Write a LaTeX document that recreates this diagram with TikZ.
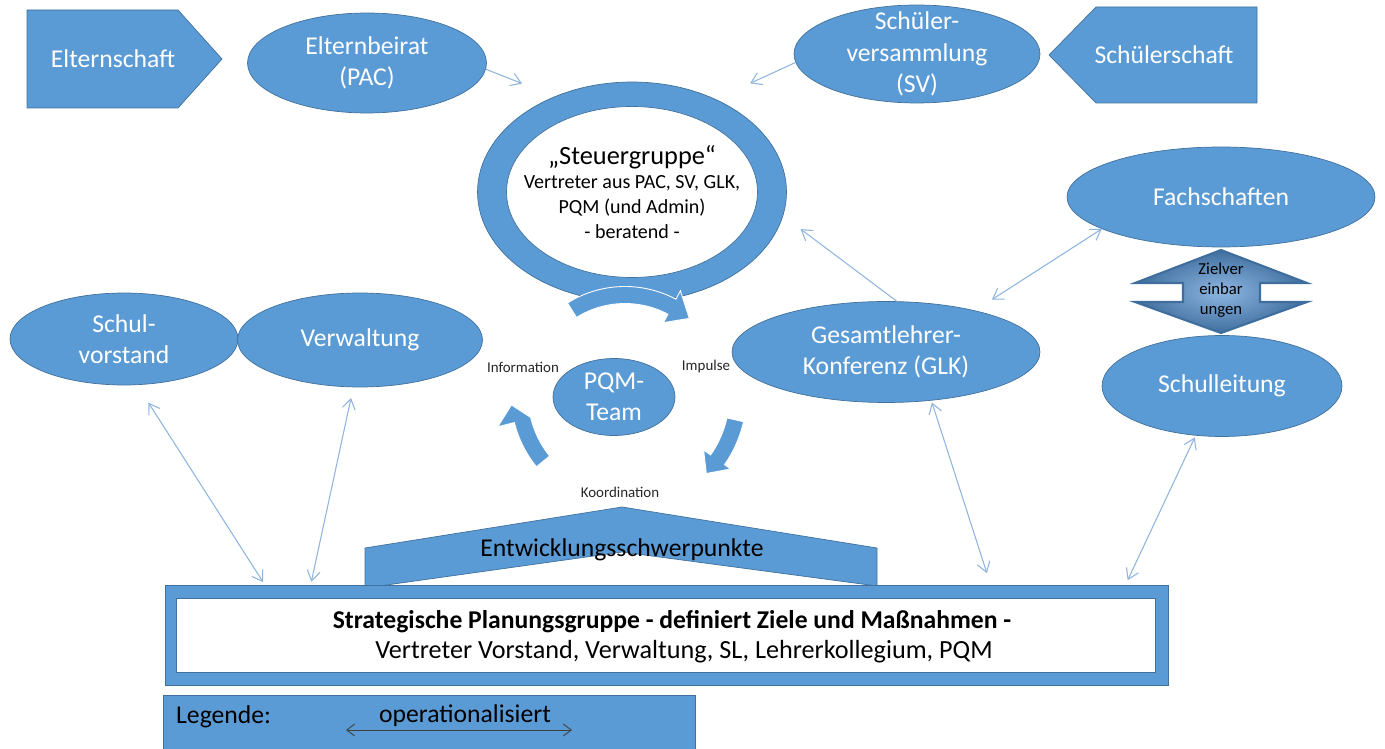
\documentclass[tikz,border=0pt]{standalone}
\usepackage{fontspec}
\setmainfont{Carlito}
\usetikzlibrary{shapes.geometric, arrows.meta, positioning, calc}
\definecolor{boxblue}{HTML}{5B9BD5}
\definecolor{boxline}{HTML}{41719C}
\definecolor{linkblue}{HTML}{8FB4DE}
\definecolor{zvdark}{HTML}{3F6E9E}
\definecolor{zvlight}{HTML}{8DB6E2}

\begin{document}
\begin{tikzpicture}[x=0.02cm, y=0.02cm,
      blob/.style={ellipse, draw=boxline, fill=boxblue, inner xsep=0pt,
      inner ysep=-9pt, align=center, text=white,
      font=\fontsize{14.6}{17.9}\selectfont},
      flatbox/.style={draw=boxline, fill=boxblue},
      bigtext/.style={font=\fontsize{14.6}{17.9}\selectfont},
      smalllabel/.style={font=\fontsize{8.5}{10}\selectfont, text=black!85},
      infoarrow/.style={draw=linkblue, line width=0.6pt,
      -{Straight Barb[length=2mm,width=2.6mm]}},
      bothways/.style={draw=linkblue, line width=0.6pt,
      {Straight Barb[length=2mm,width=2.6mm]}-{Straight Barb[length=2mm,width=2.6mm]}},
      cyclearrow/.style={fill=boxblue, draw=white, line width=0.5pt} ]
    \useasboundingbox (0,0) rectangle (1385,-749);

    % Parents and pupils
    \filldraw[flatbox] (27,-10) -- (178,-10) -- (222,-59) -- (178,-108) --
    (27,-108) -- cycle; \node[bigtext, text=white] (eltern) at (113,-59)
    {Elternschaft};
    \filldraw[flatbox] (1257,-7) -- (1096,-7) -- (1049,-55) -- (1096,-103) --
    (1257,-103) -- cycle; \node[bigtext, text=white] (schueler) at (1164,-55)
    {Schülerschaft};
    \node[blob, minimum width=4.78cm, minimum height=2cm] (pac) at (367,-63)
    {Elternbeirat\\(PAC)};
    \node[blob, minimum width=4.92cm, minimum height=1.96cm] (sv) at (917,-54)
    {Schüler-\\versammlung\\(SV)};

    % Steering group ring
    \node[ellipse, draw=boxline, fill=boxblue, minimum width=6.18cm, minimum
    height=4.4cm] (ring) at (632,-192) {};
    \node[ellipse, draw=boxline, fill=white, minimum width=5.02cm, minimum
    height=3.42cm] (ringhole) at (632,-192) {};
    \node[align=center, font=\fontsize{11.4}{14.2}\selectfont] (steuer) at
    (632,-192) {{\fontsize{15}{14.2}\selectfont „Steuergruppe“}\\Vertreter aus
    PAC, SV, GLK,\\PQM (und Admin)\\- beratend -};

    % PQM cycle
    \coordinate (cyc) at (625,-395);
    \filldraw[cyclearrow] ($(cyc)+(122:108.5)$) arc[start angle=122, end
    angle=62, radius=2.17cm] -- ($(cyc)+(62:118)$) -- ($(cyc)+(50:100)$) --
    ($(cyc)+(62:82)$) -- ($(cyc)+(62:91.5)$) arc[start angle=62, end
    angle=122, radius=1.83cm] -- cycle;
    \filldraw[cyclearrow] ($(cyc)+(-12.7:121.5)$) arc[start angle=-12.7, end
    angle=-35, radius=2.43cm] -- ($(cyc)+(-35:129)$) -- ($(cyc)+(-44:113)$)
    -- ($(cyc)+(-35:96)$) -- ($(cyc)+(-35:104.5)$) arc[start angle=-35, end
    angle=-12.7, radius=2.09cm] -- cycle;
    \filldraw[cyclearrow] ($(cyc)+(219:97)$) arc[start angle=219, end
    angle=194, radius=1.94cm] -- ($(cyc)+(194:96)$) -- ($(cyc)+(185:114)$) --
    ($(cyc)+(194:131)$) -- ($(cyc)+(194:114)$) arc[start angle=194, end
    angle=219, radius=2.28cm] -- cycle;
    \node[blob, minimum width=2.44cm, minimum height=1.54cm] (pqm) at
    (614,-397) {PQM-\\Team};
    \node[smalllabel] (info) at (523,-367) {Information};
    \node[smalllabel] (impulse) at (706,-367) {Impulse};
    \node[smalllabel] (koord) at (620,-492) {Koordination};

    % Left and right groups
    \node[blob, minimum width=4.56cm, minimum height=1.84cm] (vorstand) at
    (124,-339) {Schul-\\vorstand};
    \node[blob, minimum width=4.9cm, minimum height=1.88cm] (verwaltung) at
    (360,-340) {Verwaltung};
    \node[blob, minimum width=6.16cm, minimum height=2.02cm] (glk) at
    (886,-352) {Gesamtlehrer-\\Konferenz (GLK)};
    \node[blob, minimum width=6.16cm, minimum height=2cm] (fach) at
    (1221,-197) {Fachschaften};
    \node[blob, minimum width=4.8cm, minimum height=2.02cm] (sl) at
    (1222,-386) {Schulleitung};

    % Zielvereinbarungen double arrow
    \shade[inner color=zvlight, outer color=zvdark] (1221,-250) -- (1307,-283)
    -- (1260,-283) -- (1260,-302) -- (1307,-302) -- (1221,-333) -- (1135,-302)
    -- (1183,-302) -- (1183,-283) -- (1135,-283) -- cycle;
    \draw[zvdark, line width=1.2pt] (1221,-250) -- (1307,-283) -- (1260,-283)
    -- (1260,-302) -- (1307,-302) -- (1221,-333) -- (1135,-302) -- (1183,-302)
    -- (1183,-283) -- (1135,-283) -- cycle;
    \node[align=center, font=\fontsize{9.5}{11.3}\selectfont, text=black] (zv)
    at (1221,-290) {Zielver\\einbar\\ungen};

    % Strategic planning group
    \filldraw[flatbox] (365,-548) -- (622,-507) -- (877,-548) -- (877,-586) --
    (622,-552) -- (365,-588) -- cycle;
    \node[bigtext, text=black] (schwer) at (622,-550)
    {Entwicklungsschwerpunkte};
    \node[flatbox, rectangle, minimum width=20.06cm, minimum height=2cm] (spg)
    at (666.5,-635) {};
    \node[draw=boxline, fill=white, rectangle, minimum width=19.58cm, minimum
    height=1.48cm] (spginner) at (665.5,-635) {};
    \node[bigtext] (spgtitle) at (672,-622) {\bfseries Strategische
    Planungsgruppe - definiert Ziele und Maßnahmen -};
    \node[font=\fontsize{14.9}{17.9}\selectfont] (spgsub) at (684,-652)
    {Vertreter Vorstand, Verwaltung, SL, Lehrerkollegium, PQM};

    % Legend
    \filldraw[flatbox] (163,-695) rectangle (695,-760);
    \node[bigtext, anchor=west] (legende) at (170,-717) {Legende:};
    \node[bigtext] (oper) at (465,-716) {operationalisiert};
    \coordinate (legl) at (346,-730); \coordinate (legr) at (572,-730);
    \draw[black!75, line width=0.5pt, {Straight Barb[length=1.6mm,
    width=2.4mm]}-{Straight Barb[length=1.6mm, width=2.4mm]}] (legl) --
    (legr);

    % Connectors
    \draw[infoarrow, shorten >=0.7cm] (pac.-3) -- (ring.129);
    \draw[infoarrow, shorten >=0.76cm] (sv.184) -- (ring.48);
    \draw[infoarrow, shorten >=0.44cm] (glk.78) -- (ring.-9.5);
    \draw[bothways, shorten <=0.4cm] (glk.25) -- (fach.195);
    \draw[bothways, shorten <=0.42cm, shorten >=0.06cm] (vorstand.-74) --
    ([xshift=2cm]spg.north west);
    \draw[bothways, shorten <=0.22cm, shorten >=0.06cm] (verwaltung.-98) --
    ([xshift=2.92cm]spg.north west);
    \draw[bothways, shorten <=0.04cm, shorten >=0.24cm] (glk.-47) --
    ([xshift=16.52cm]spg.north west);
    \draw[bothways, shorten <=0.04cm, shorten >=0.1cm] (sl.-118) --
    ([xshift=19.22cm]spg.north west);

    \end{tikzpicture}
\end{document}
